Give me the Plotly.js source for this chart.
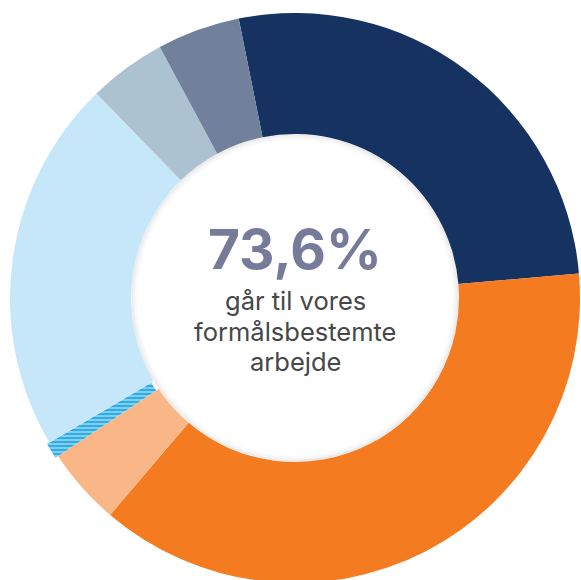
<!DOCTYPE html>
<html>
<head>
<meta charset="utf-8">
<script src="https://cdn.plot.ly/plotly-3.0.1.min.js"></script>
<style>
html,body{margin:0;padding:0;overflow:hidden;background:#fff;}
#chart{width:586px;height:587px;}
</style>
</head>
<body>
<div id="chart"></div>
<script>
// Data (share of total, %), clockwise from navy slice
const categories = ['Navy', 'Orange', 'Peach', 'Hatched', 'Light blue', 'Light grey-blue', 'Grey-blue'];
const values = [26.8, 37.6, 4.4, 0.9, 21.2, 4.4, 4.7];
const colors = ['#163260', '#f47b20', '#f9b787', '#7ecff3', '#c6e7f9', '#adc2d1', '#71809b'];
const headline = '73,6%';
const subtitleLines = ['går til vores', 'formålsbestemte', 'arbejde'];

const W = 586, H = 587;
const cx = 295, cy = 298, R = 285, rIn = 164;
const maxPull = 0.01;
const Rd = R * (1 + maxPull);

const trace = {
  type: 'pie',
  labels: categories,
  values: values,
  sort: false,
  direction: 'clockwise',
  rotation: -11.4,
  hole: rIn / R,
  textinfo: 'none',
  hoverinfo: 'none',
  showlegend: false,
  pull: [0, 0, 0, maxPull, 0, 0, 0],
  marker: {
    colors: colors,
    line: {width: 0},
    pattern: {
      shape: ['', '', '', '-', '', '', ''],
      fgcolor: ['#000', '#000', '#000', '#1fa3de', '#000', '#000', '#000'],
      bgcolor: colors,
      size: 4,
      solidity: 0.4
    }
  },
  domain: {x: [(cx - Rd) / W, (cx + Rd) / W], y: [1 - (cy + Rd) / H, 1 - (cy - Rd) / H]}
};

// soft inner shadow around the hole
const shapes = [];
const shadowSteps = [[1, 0.08], [2.5, 0.05], [4, 0.03], [5.5, 0.015]];
shadowSteps.forEach(([d, a]) => {
  const r = rIn - d;
  shapes.push({
    type: 'circle', xref: 'paper', yref: 'paper',
    x0: (cx - r) / W, x1: (cx + r) / W,
    y0: 1 - (cy + r) / H, y1: 1 - (cy - r) / H,
    line: {color: 'rgba(0,0,0,' + a + ')', width: 1.6},
    fillcolor: 'rgba(0,0,0,0)'
  });
});

const annotations = [
  {text: '<b>' + headline + '</b>', x: cx / W, y: 1 - 249 / H, xref: 'paper', yref: 'paper',
   xanchor: 'center', yanchor: 'middle', showarrow: false,
   font: {family: 'Inter, sans-serif', size: 55, color: '#787a9a', weight: 900}}
];
const lineY = [300, 331, 361];
subtitleLines.forEach((t, i) => {
  annotations.push({text: t, x: cx / W, y: 1 - lineY[i] / H, xref: 'paper', yref: 'paper',
    xanchor: 'center', yanchor: 'middle', showarrow: false,
    font: {family: 'Inter, sans-serif', size: 25.5, color: '#474747'}});
});

const layout = {
  width: W, height: H,
  margin: {l: 0, r: 0, t: 0, b: 0},
  paper_bgcolor: '#ffffff',
  plot_bgcolor: '#ffffff',
  shapes: shapes,
  annotations: annotations
};

Plotly.newPlot('chart', [trace], layout, {staticPlot: true, displayModeBar: false});
</script>
</body>
</html>
